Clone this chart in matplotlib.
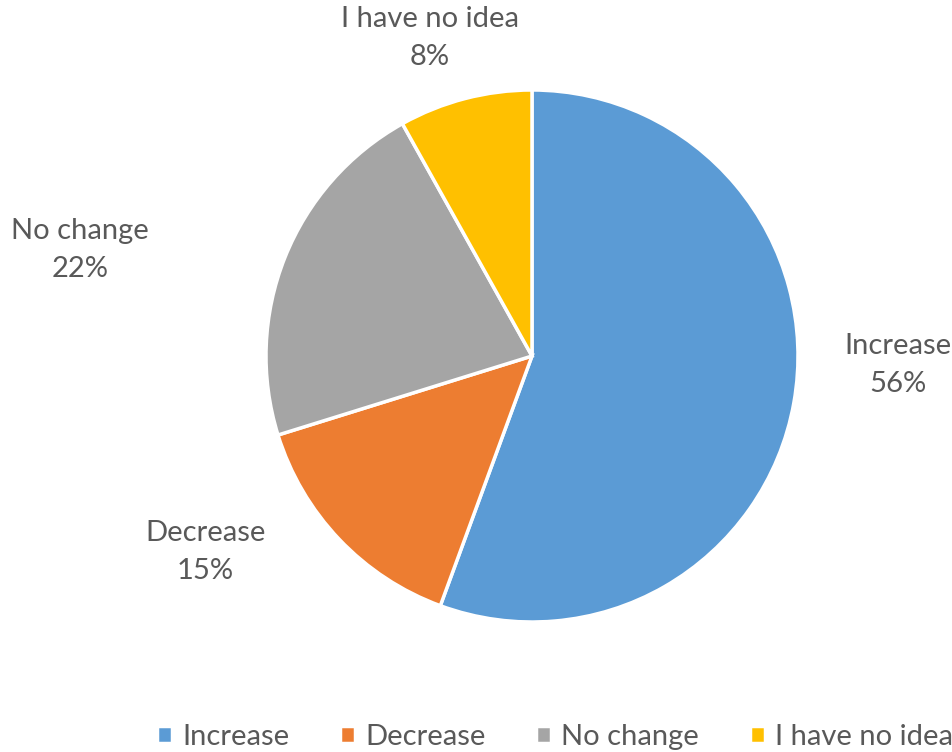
import numpy as np
import matplotlib
matplotlib.use("Agg")
import matplotlib.pyplot as plt

# data
categories = ["Increase", "Decrease", "No change", "I have no idea"]
values = [55.6, 14.6, 21.7, 8.1]
pct_labels = ["56%", "15%", "22%", "8%"]
colors = ["#5B9BD5", "#ED7D31", "#A5A5A5", "#FFC000"]

plt.rcParams['font.family'] = ['Lato', 'DejaVu Sans']
text_color = "#595959"

fig = plt.figure(figsize=(9.53, 7.52), dpi=100)
ax = fig.add_axes([266 / 953, 130 / 752, 532 / 953, 532 / 752])

wedges, _ = ax.pie(values, colors=colors, startangle=90, counterclock=False,
                   wedgeprops=dict(edgecolor="white", linewidth=2.5))
ax.set_xlim(-1, 1)
ax.set_ylim(-1, 1)
ax.set_aspect("equal")

# label anchors in radii (excel "best fit" placement)
label_pos = [(1.376, -0.034), (-1.229, -0.737), (-1.699, 0.398), (-0.383, 1.195)]
for cat, pct, (lx, ly) in zip(categories, pct_labels, label_pos):
    ax.text(lx, ly, cat + "\n" + pct,
            ha="center", va="center", fontsize=21, color=text_color,
            linespacing=1.55, clip_on=False)

leg = fig.legend(wedges, categories, loc="center", bbox_to_anchor=(555 / 953, 1 - 737 / 752),
                 ncol=4, frameon=False, fontsize=21, handlelength=0.5, handleheight=0.5,
                 handletextpad=0.35, columnspacing=1.75, labelcolor=text_color)

fig.savefig("out.png", dpi=100)
